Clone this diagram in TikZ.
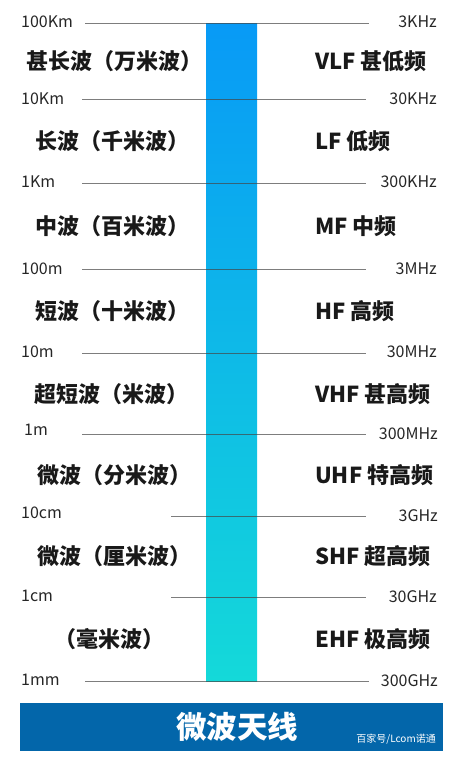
\documentclass[tikz,border=0pt]{standalone}
\usepackage{fontspec}
\setmainfont{Noto Sans CJK SC}
\usetikzlibrary{calc}
\definecolor{bartop}{RGB}{8,154,246}
\definecolor{barbot}{RGB}{20,217,217}
\definecolor{banner}{RGB}{3,102,170}
\definecolor{rule}{RGB}{70,70,70}
\tikzset{
  x=1pt,y=-1pt,
  scale label/.style={font=\fontsize{16}{18}\selectfont, text=black!85, inner sep=0pt},
  left scale/.style={scale label, anchor=west},
  right scale/.style={scale label, anchor=east},
  band/.style={font=\bfseries\fontsize{22}{25}\selectfont, text=black!90, inner sep=0pt, anchor=west},
  tick/.style={draw=rule, line width=0.9pt, opacity=0.7},
}
\begin{document}
\begin{tikzpicture}
\useasboundingbox (0,0) rectangle (458,761);
% gradient bar
\shade[top color=bartop, bottom color=barbot] (206,23) rectangle (257,681);
% rules
\coordinate (a1) at (85,23);  \coordinate (b1) at (369,23);
\coordinate (a2) at (82,99);  \coordinate (b2) at (366,99);
\coordinate (a3) at (82,183); \coordinate (b3) at (366,183);
\coordinate (a4) at (82,269); \coordinate (b4) at (366,269);
\coordinate (a5) at (82,353); \coordinate (b5) at (366,353);
\coordinate (a6) at (82,434); \coordinate (b6) at (366,434);
\coordinate (a7) at (171,516); \coordinate (b7) at (366,516);
\coordinate (a8) at (171,597); \coordinate (b8) at (366,597);
\coordinate (a9) at (85,681); \coordinate (b9) at (369,681);
\foreach \i in {1,...,9} { \draw[tick] (a\i) -- (b\i); }
% wavelength labels
\node[left scale] (w1) at (21,22) {100Km};
\node[left scale] (w2) at (21,99) {10Km};
\node[left scale] (w3) at (21,182) {1Km};
\node[left scale] (w4) at (21,269) {100m};
\node[left scale] (w5) at (21,352) {10m};
\node[left scale] (w6) at (24,430) {1m};
\node[left scale] (w7) at (21,513) {10cm};
\node[left scale] (w8) at (21,596) {1cm};
\node[left scale] (w9) at (21,680) {1mm};
% frequency labels
\node[right scale] (f1) at (437,22) {3KHz};
\node[right scale] (f2) at (437,99) {30KHz};
\node[right scale] (f3) at (437,182) {300KHz};
\node[right scale] (f4) at (437,269) {3MHz};
\node[right scale] (f5) at (437,352) {30MHz};
\node[right scale] (f6) at (438,434) {300MHz};
\node[right scale] (f7) at (438,516) {3GHz};
\node[right scale] (f8) at (437,597) {30GHz};
\node[right scale] (f9) at (438,681) {300GHz};
% band names left
\node[band] (n1) at (26,61) {甚长波（万米波）};
\node[band] (n2) at (35,141) {长波（千米波）};
\node[band] (n3) at (35,226) {中波（百米波）};
\node[band] (n4) at (35,311) {短波（十米波）};
\node[band] (n5) at (34,394) {超短波（米波）};
\node[band] (n6) at (37,475) {微波（分米波）};
\node[band] (n7) at (37,556) {微波（厘米波）};
\node[band] (n8) at (54,639) {（毫米波）};
% band names right
\node[band] (r1) at (315,61) {VLF 甚低频};
\node[band] (r2) at (315,141) {LF 低频};
\node[band] (r3) at (315,226) {MF 中频};
\node[band] (r4) at (315,311) {HF 高频};
\node[band] (r5) at (315,394) {VHF 甚高频};
\node[band] (r6) at (315,475) {UHF 特高频};
\node[band] (r7) at (315,556) {SHF 超高频};
\node[band] (r8) at (315,639) {EHF 极高频};
% banner
\fill[banner] (20,703) rectangle (443,751);
\node[font=\bfseries\fontsize{30.5}{34}\selectfont, text=white, inner sep=0pt] (title) at (237,727) {微波天线};
\node[font=\fontsize{10}{12}\selectfont, text=white, inner sep=0pt, anchor=east] (wm) at (436,739) {百家号/Lcom诺通};
\end{tikzpicture}
\end{document}
